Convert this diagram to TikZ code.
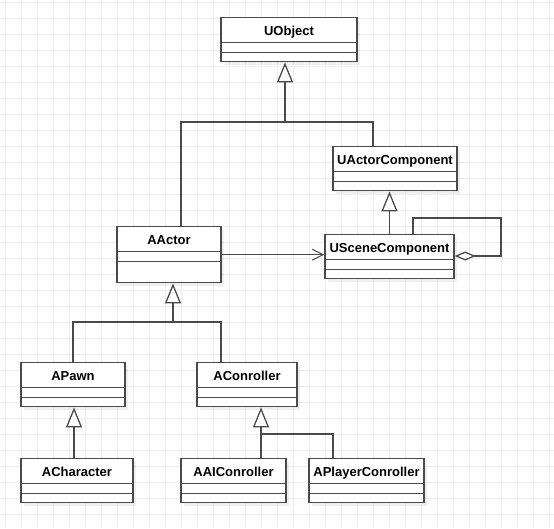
\documentclass[tikz,border=0pt]{standalone}
\usepackage{fontspec}
\setmainfont{Liberation Sans}
\usetikzlibrary{arrows.meta,shadows}
\definecolor{umlgray}{HTML}{4A4A4A}
\definecolor{gridgray}{HTML}{EDEDED}

\begin{document}
\begin{tikzpicture}[
  x=1pt, y=-1pt,
  gridline/.style={draw=gridgray, line width=0.8pt},
  umlclass/.style={draw=umlgray, line width=1.4pt, fill=white, anchor=north,
    inner sep=0pt, text height=17.5pt, text depth=26.5pt,
    font=\fontsize{13}{15}\selectfont\bfseries,
    drop shadow={shadow xshift=3pt, shadow yshift=-3pt, opacity=0.12},
    path picture={
      \draw[umlgray, line width=1.4pt]
        ([yshift=-25pt]path picture bounding box.north west) -- ([yshift=-25pt]path picture bounding box.north east)
        ([yshift=-35pt]path picture bounding box.north west) -- ([yshift=-35pt]path picture bounding box.north east);}},
  link/.style={draw=umlgray, line width=1.6pt},
  inherit/.style={link, -{Triangle[length=20pt, width=16pt, fill=white, line width=1.3pt]}},
  assoc/.style={draw=umlgray, line width=1pt, -{Straight Barb[length=11pt, width=11pt, line width=1pt]}},
  aggregate/.style={link, -{Diamond[length=21pt, width=9pt, fill=white, line width=1.3pt]}}
]
\useasboundingbox (0,0) rectangle (554,528);
\fill[white] (0,0) rectangle (554,528);

% background grid
\foreach \gx in {0,...,34}
  \draw[gridline] (5.5+16*\gx,0) -- (5.5+16*\gx,528);
\foreach \gy in {0,...,32}
  \draw[gridline] (0,2.5+16*\gy) -- (554,2.5+16*\gy);

% classes
\node[umlclass, minimum width=136pt] (uobject) at (289,17) {UObject};
\node[umlclass, minimum width=124pt] (uactorcomp) at (395,146) {UActorComponent};
\node[umlclass, minimum width=129pt] (uscenecomp) at (389.5,234) {USceneComponent};
\node[umlclass, minimum width=104pt, text depth=38.5pt] (aactor) at (169,226) {AActor};
\node[umlclass, minimum width=104pt] (apawn) at (73,362) {APawn};
\node[umlclass, minimum width=100pt] (acontroller) at (247,362) {AConroller};
\node[umlclass, minimum width=112pt] (acharacter) at (77,458) {ACharacter};
\node[umlclass, minimum width=105pt] (aaicontroller) at (233.5,458) {AAIConroller};
\node[umlclass, minimum width=115pt] (aplayercontroller) at (366.5,458) {APlayerConroller};

% forks
\coordinate (topfork) at (285,122);
\coordinate (midfork) at (173,322);
\coordinate (lowfork) at (261,434);
\coordinate (loopcorner) at (501,256);

% connectors
\draw[inherit] (topfork) -- ([xshift=-4pt]uobject.south);
\draw[link] ([xshift=12pt]aactor.north) |- (topfork) -| ([xshift=-22pt]uactorcomp.north);
\draw[inherit] (uscenecomp.north) -- (uscenecomp.north |- uactorcomp.south);
\draw[aggregate] ([xshift=23.5pt]uscenecomp.north) -- ++(0,-16) -| (loopcorner) -- (loopcorner -| uscenecomp.east);
\draw[assoc] (aactor.east) -- (aactor.east -| uscenecomp.west);
\draw[inherit] (midfork) -- ([xshift=4pt]aactor.south);
\draw[link] (apawn.north) |- (midfork) -| ([xshift=-26pt]acontroller.north);
\draw[inherit] ([xshift=-3pt]acharacter.north) -- ([xshift=1pt]apawn.south);
\draw[inherit] ([xshift=27.5pt]aaicontroller.north) -- ([xshift=14pt]acontroller.south);
\draw[link] ([xshift=-33.5pt]aplayercontroller.north) |- (lowfork);
\end{tikzpicture}
\end{document}
